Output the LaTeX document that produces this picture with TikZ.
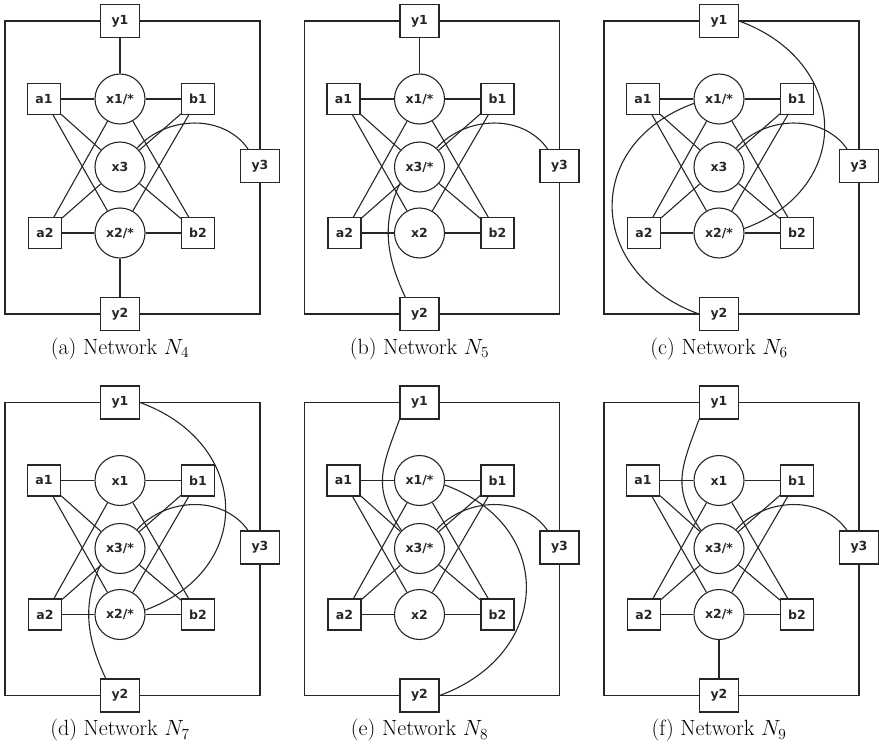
\RequirePackage{fix-cm}
\documentclass[tikz,border=0pt]{standalone}
\usepackage{fontspec}
\newfontfamily\lblfont{DejaVu Sans}
\newcommand\netpanel[7]{%
\begin{scope}[shift={(#2,#3)}]
\node[vc] (#1x1) at (120,-99) {#4};
\node[vc] (#1x3) at (120,-167) {#5};
\node[vc] (#1x2) at (120,-233) {#6};
\node[sq] (#1a1) at (44,-99) {a1};
\node[sq] (#1b1) at (198,-99) {b1};
\node[sq] (#1a2) at (45,-233) {a2};
\node[sq] (#1b2) at (198,-233) {b2};
\node[ysq] (#1y1) at (120,-21) {y1};
\node[ysq] (#1y2) at (120,-314) {y2};
\node[ysq] (#1y3) at (260,-166) {y3};
\coordinate (#1L1) at (5,-21);
\coordinate (#1L2) at (5,-314);
\node[capt] (#1cap) at (120,-349) {#7};
\end{scope}
\draw[ln] (#1y1) -- (#1L1) -- (#1L2) -- (#1y2);
\draw[ln] (#1y1) -| (#1y3);
\draw[ln] (#1y3) |- (#1y2);
\foreach \u/\v in {a1/x1,x1/b1,a2/x2,x2/b2,a1/x3,a1/x2,b1/x3,b1/x2,a2/x1,a2/x3,b2/x1,b2/x3}
  \draw[ln] (#1\u) -- (#1\v);
\draw[ln] (#1y3.125) to[out=125,in=48] (#1x3.48);
}
\begin{document}
\begin{tikzpicture}[x=1pt,y=1pt,
  sq/.style={draw=black!85, line width=1.1pt, rectangle, minimum width=33pt, minimum height=31pt, inner sep=0pt, font=\lblfont\bfseries\fontsize{12.5}{14}\selectfont, text=black!85},
  ysq/.style={sq, minimum width=39pt, minimum height=33pt},
  vc/.style={draw=black!85, line width=1.1pt, circle, minimum size=50pt, inner sep=0pt, font=\lblfont\bfseries\fontsize{12.5}{14}\selectfont, text=black!85},
  ln/.style={line width=1.1pt, draw=black!85},
  capt/.style={inner sep=0pt, font=\fontsize{22}{26}\selectfont}]
\useasboundingbox (0,0) rectangle (879,-752);
% (a)
\netpanel{a}{0}{0}{x1/*}{x3}{x2/*}{(a) Network $N_4$}
\draw[ln] (ay1) -- (ax1);
\draw[ln] (ax2) -- (ay2);
% (b)
\netpanel{b}{299.5}{0}{x1/*}{x3/*}{x2}{(b) Network $N_5$}
\draw[ln] (by1) -- (bx1);
\draw[ln] (by2.130) to[out=115,in=245] (bx3.220);
% (c)
\netpanel{c}{599}{0}{x1/*}{x3}{x2/*}{(c) Network $N_6$}
\draw[ln] (cy1.east) to[out=-20,in=20,looseness=1.45] (cx2.10);
\draw[ln] (cy2.west) to[out=160,in=200,looseness=1.45] (cx1.190);
% (d)
\netpanel{d}{0}{-381.5}{x1}{x3/*}{x2/*}{(d) Network $N_7$}
\draw[ln] (dy1.east) to[out=-20,in=20,looseness=1.45] (dx2.10);
\draw[ln] (dy2.130) to[out=115,in=245] (dx3.220);
% (e)
\netpanel{e}{299.5}{-381.5}{x1/*}{x3/*}{x2}{(e) Network $N_8$}
\draw[ln] (ey1.south west) to[out=250,in=125,looseness=1.2] (ex3.135);
\draw[ln] (ey2.east) to[out=20,in=-20,looseness=1.45] (ex1.-10);
% (f)
\netpanel{f}{599}{-381.5}{x1}{x3/*}{x2/*}{(f) Network $N_9$}
\draw[ln] (fy1.south west) to[out=250,in=125,looseness=1.2] (fx3.135);
\draw[ln] (fx2) -- (fy2);
\end{tikzpicture}
\end{document}
